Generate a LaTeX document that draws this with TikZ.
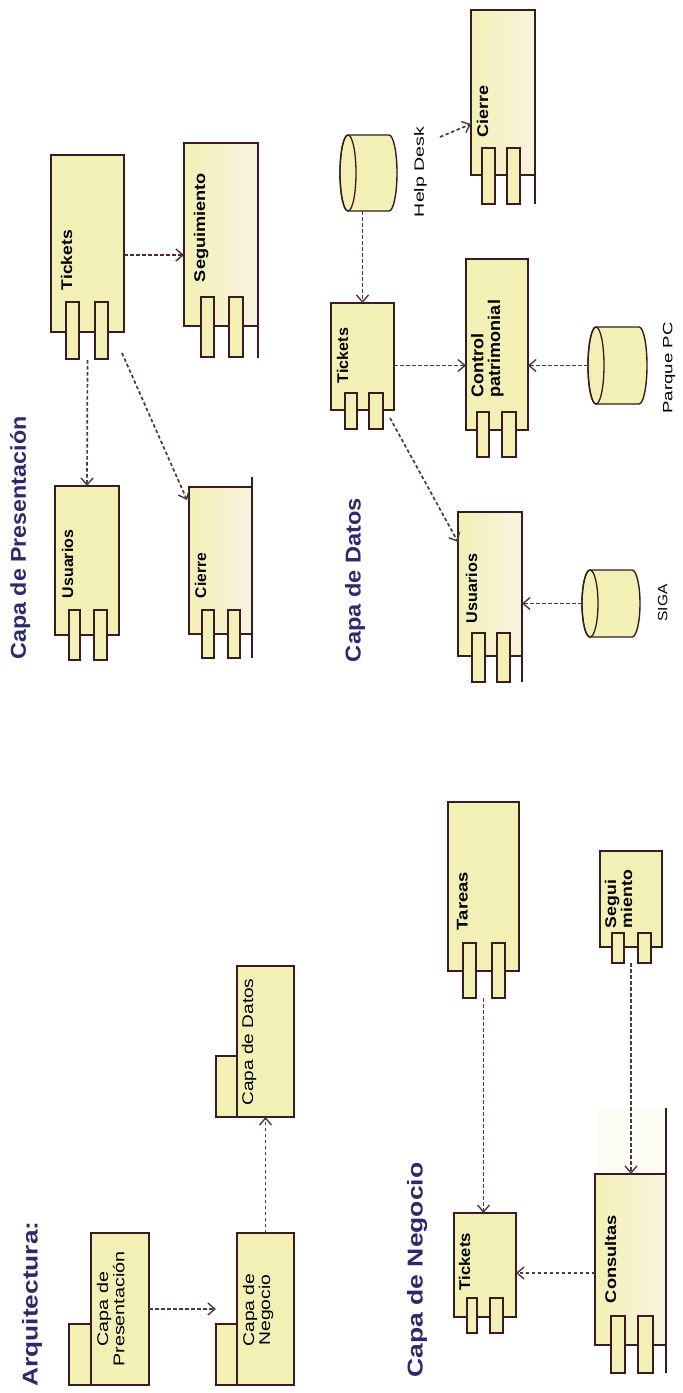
\documentclass[tikz,border=0pt]{standalone}
\usepackage{fontspec}
\setmainfont{Liberation Sans}
\usepackage{graphicx}
\usetikzlibrary{arrows.meta,calc}
\definecolor{cfill}{HTML}{F3F0B6}
\definecolor{ccream}{HTML}{F8F3E0}
\definecolor{cline}{HTML}{3A1C20}
\definecolor{carrow}{HTML}{4A3A46}
\definecolor{cmaroon}{HTML}{5A2438}
\definecolor{cnavy}{HTML}{2D2A6C}
\newcommand\fitw[2]{\resizebox{#1pt}{\height}{#2}}
\newcommand\twol[2]{\begin{tabular}{@{}l@{}}#1\\#2\end{tabular}}
\newcommand\twoc[2]{\begin{tabular}{@{}c@{}}#1\\#2\end{tabular}}
\newcommand\portpair[6]{%
  \draw[port] (#1,#5) rectangle (#2,#6);
  \draw[port] (#3,#5) rectangle (#4,#6);}
\newcommand\cylshape[4]{%
  \filldraw[port] ({#1+8},#2) -- ({#3-8},#2)
    arc[start angle=-90,end angle=90,x radius=8,y radius={(#4-#2)/2}]
    -- ({#1+8},#4)
    arc[start angle=90,end angle=270,x radius=8,y radius={(#4-#2)/2}] -- cycle;
  \draw[cline,line width=1.3pt] ({#1+8},{(#2+#4)/2}) ellipse [x radius=8,y radius={(#4-#2)/2}];}
\begin{document}
\begin{tikzpicture}[x=1pt,y=-1pt,
  body/.style={draw=cline,line width=1.4pt,fill=cfill,inner sep=0pt,outer sep=0pt},
  fade/.style={left color=cfill,right color=ccream},
  port/.style={draw=cline,line width=1.4pt,fill=cfill},
  edge/.style={draw=cline,line width=1.4pt},
  lbl/.style={rotate=90,inner sep=0pt,outer sep=0pt,anchor=north west,
    font=\fontsize{15.5}{17.4}\selectfont\bfseries},
  pkl/.style={rotate=90,inner sep=0pt,outer sep=0pt,anchor=north,
    font=\fontsize{15.5}{18}\selectfont},
  cyl/.style={rotate=90,inner sep=0pt,outer sep=0pt,anchor=north,
    font=\fontsize{13.5}{16}\selectfont},
  head/.style={rotate=90,inner sep=0pt,outer sep=0pt,anchor=north,text=cnavy,
    font=\fontsize{21.5}{25}\selectfont\bfseries},
  dep/.style={draw=carrow,line width=1.7pt,dash pattern=on 3.5pt off 2.5pt,
    -{Straight Barb[length=7pt,width=12pt,line width=1.4pt]}}]
\fill[white] (0,0) rectangle (683,1393);
\useasboundingbox (0,0) rectangle (683,1393);
\renewcommand\arraystretch{0.88}

% ---------- Capa de Presentacion ----------
\node[head] (hP) at (10,538) {\fitw{243}{Capa de Presentación}};

\node[body,minimum width=73pt,minimum height=177pt] (tkP) at (87.5,243.5) {};
\portpair{66}{79}{95}{108}{302}{359}
\node[lbl] (tkPl) at (61,290) {\fitw{60}{Tickets}};

\node[body,fade,minimum width=74pt,minimum height=183pt] (sgP) at (221,234.5) {};
\draw[edge] (258,326) -- (258,358);
\portpair{201}{214}{229}{243}{297}{357}
\node[lbl] (sgPl) at (194,282) {\fitw{109}{Seguimiento}};

\node[body,minimum width=64pt,minimum height=149pt] (usP) at (87,560.5) {};
\portpair{69}{80}{94}{107}{610}{660}
\node[lbl] (usPl) at (62,598) {\fitw{68}{Usuarios}};

\node[body,fade,minimum width=63pt,minimum height=147pt] (ciP) at (220.5,560.5) {};
\draw[edge] (252,477) -- (252,658);
\portpair{202}{214}{228}{240}{610}{658}
\node[lbl] (ciPl) at (195,598) {\fitw{45}{Cierre}};

\draw[dep,draw=cmaroon] ([yshift=-11.5pt]tkP.east) -- ([yshift=-20.5pt]sgP.west);
\draw[dep] ([yshift=-28pt]tkP.south) -- (usP.north);
\draw[dep] ([xshift=-2pt,yshift=-21pt]tkP.south east) -- ([xshift=-2pt,yshift=-13pt]ciP.north west);

% ---------- Capa de Datos ----------
\node[head] (hD) at (345,580) {\fitw{164}{Capa de Datos}};

\node[body,minimum width=63pt,minimum height=107pt] (tkD) at (362.5,356.5) {};
\portpair{345}{357}{369}{383}{393}{429}
\node[lbl] (tkDl) at (337,383) {\fitw{55}{Tickets}};

\node[body,minimum width=62pt,minimum height=171pt] (cp) at (497,344.5) {};
\portpair{477}{489}{502}{516}{412}{457}
\node[lbl,font=\fontsize{17}{17.4}\selectfont\bfseries] (cpl) at (471,397) {\fitw{97}{\twol{Control}{patrimonial}}};

\node[body,fade,minimum width=64pt,minimum height=165pt] (ciD) at (503,92.5) {};
\draw[edge] (535,175) -- (535,204);
\portpair{482}{495}{507}{520}{148}{204}
\node[lbl] (ciDl) at (477,137) {\fitw{52}{Cierre}};

\node[body,fade,minimum width=64pt,minimum height=144pt] (usD) at (490,584) {};
\draw[edge] (522,656) -- (522,682);
\portpair{472}{485}{497}{510}{633}{682}
\node[lbl] (usDl) at (466,623) {\fitw{69}{Usuarios}};

\node[inner sep=0pt,minimum width=57pt,minimum height=76pt] (hd) at (368.5,173) {};
\cylshape{340}{135}{397}{211}
\node[cyl] (hdl) at (414,172) {\fitw{90}{Help Desk}};

\node[inner sep=0pt,minimum width=59pt,minimum height=77pt] (pq) at (617.5,365.5) {};
\cylshape{588}{327}{647}{404}
\node[cyl] (pql) at (663,368) {\fitw{91}{Parque PC}};

\node[inner sep=0pt,minimum width=58pt,minimum height=67pt] (sa) at (611,603.5) {};
\cylshape{582}{570}{640}{637}
\node[cyl] (sal) at (658,603) {\fitw{37}{SIGA}};

\coordinate (hdc) at (440,137);
\draw[dep] (hd.south -| tkD.north) -- (tkD.north);
\draw[dep] (hdc) -- ([yshift=-31.5pt]ciD.west);
\draw[dep] (tkD.east |- pq.west) -- (cp.west |- pq.west);
\draw[dep] (pq.west) -- (cp.east |- pq.west);
\draw[dep] ([xshift=-4pt,yshift=-8pt]tkD.south east) -- ([yshift=42pt]usD.west);
\draw[dep] (sa.west) -- (usD.east |- sa.west);

% ---------- Arquitectura ----------
\node[head] (hA) at (22,1304) {\fitw{165}{Arquitectura:}};

\draw[port] (69,1324) rectangle (91,1385);
\node[body,minimum width=58pt,minimum height=152pt] (pkP) at (120,1309) {};
\node[pkl] (pkPl) at (97,1309) {\fitw{115}{\twoc{Capa de}{Presentación}}};

\draw[port] (216,1324) rectangle (237,1385);
\node[body,minimum width=57pt,minimum height=152pt] (pkN) at (265.5,1309) {};
\node[pkl] (pkNl) at (243,1310) {\fitw{73}{\twoc{Capa de}{Negocio}}};

\draw[port] (216,1056) rectangle (237,1117);
\node[body,minimum width=57pt,minimum height=151pt] (pkD) at (265.5,1041.5) {};
\node[pkl] (pkDl) at (242,1042) {\fitw{127}{Capa de Datos}};

\draw[dep] (pkP.east) -- ([xshift=-21pt]pkN.west);
\draw[dep] (pkN.north) -- (pkD.south);

% ---------- Capa de Negocio ----------
\node[head] (hN) at (407,1270) {\fitw{215}{Capa de Negocio}};

\node[body,minimum width=71pt,minimum height=169pt] (ta) at (483.5,886.5) {};
\portpair{463}{476}{492}{505}{943}{998}
\node[lbl] (tal) at (457,930) {\fitw{58}{Tareas}};

\node[body,minimum width=62pt,minimum height=96pt] (sgN) at (631,899) {};
\portpair{612}{624}{638}{651}{933}{963}
\node[lbl] (sgNl) at (605,928) {\fitw{58}{\twol{Segui}{miento}}};

\node[body,minimum width=62pt,minimum height=104pt] (tkN) at (485,1265) {};
\portpair{467}{477}{490}{503}{1298}{1333}
\node[lbl] (tkNl) at (459,1290) {\fitw{57}{Tickets}};

\fill[ccream!35] (598,1108) rectangle (666,1174);
\node[body,fade,minimum width=71pt,minimum height=171pt] (co) at (630.5,1259.5) {};
\draw[edge] (666,1108) -- (666,1373);
\portpair{611}{625}{638}{653}{1316}{1373}
\node[lbl] (col) at (605,1303) {\fitw{88}{Consultas}};

\coordinate (coa) at ([yshift=-13.5pt]co.west);
\draw[dep] ([yshift=-27pt]ta.south) -- (tkN.north -| ta.south);
\draw[dep] ([yshift=-16pt]sgN.south) -- (co.north -| sgN.south);
\draw[dep] (coa) -- (tkN.east |- coa);
\end{tikzpicture}
\end{document}
